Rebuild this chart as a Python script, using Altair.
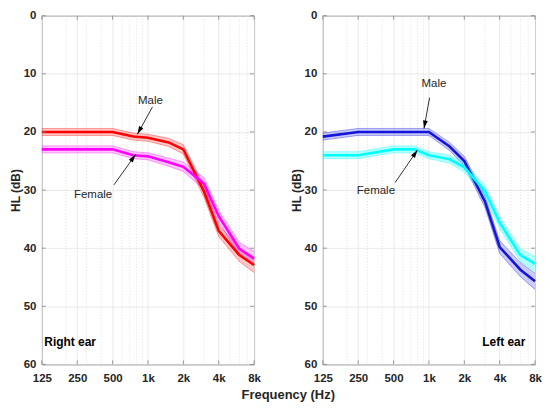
import altair as alt
import pandas as pd

# ---------------- data ----------------
freqs = [125, 250, 500, 750, 1000, 1500, 2000, 3000, 4000, 6000, 8000]

right_male = [20, 20, 20, 20.8, 21, 21.8, 23, 30.3, 37, 41.2, 42.9]
right_male_ci = [0.6, 0.6, 0.6, 0.6, 0.6, 0.7, 0.8, 1.0, 1.0, 1.1, 1.3]
right_female = [23, 23, 23, 24, 24.2, 25.2, 26, 28.9, 34.5, 40.1, 41.8]
right_female_ci = [0.6, 0.6, 0.6, 0.6, 0.6, 0.7, 0.8, 1.0, 1.0, 1.1, 1.25]

left_male = [20.8, 20, 20, 20, 20, 22.5, 25, 32, 39.8, 43.7, 45.7]
left_male_ci = [0.6, 0.6, 0.6, 0.6, 0.6, 0.7, 0.8, 1.0, 1.1, 1.2, 1.4]
left_female = [24, 24, 23, 23, 24, 24.7, 26.1, 30.2, 35.6, 41.2, 42.7]
left_female_ci = [0.6, 0.6, 0.6, 0.6, 0.6, 0.7, 0.8, 1.0, 1.0, 1.1, 1.25]

major_x = [125, 250, 500, 1000, 2000, 4000, 8000]
minor_x = [200, 300, 400, 600, 700, 800, 900, 3000, 5000, 6000, 7000]
major_y = [0, 10, 20, 30, 40, 50, 60]

# annotations: label, text pos (Hz, dB), arrow start, arrow tip, arrowhead angle
right_notes = {
    "label": ["Male", "Female"],
    "tx": [1049, 341], "ty": [14.6, 30.8],
    "x0": [1092, 514], "y0": [15.7, 29.1],
    "x1": [813, 783], "y1": [20.4, 23.9],
    "ang": [208, 35],
}
left_notes = {
    "label": ["Male", "Female"],
    "tx": [1104, 354], "ty": [11.8, 30.1],
    "x0": [1013, 516], "y0": [14.1, 28.7],
    "x1": [908, 799], "y1": [19.4, 23.1],
    "ang": [190, 34],
}

W, H = 213, 350
FONT = "Liberation Sans"
AXC = "#808080"

xs = alt.Scale(type="log", domain=[125, 8000], nice=False)
ys = alt.Scale(domain=[0, 60], reverse=True, nice=False)

x_axis = alt.Axis(values=major_x, title=None, ticks=False, grid=True,
                  labelExpr="datum.value >= 1000 ? (datum.value/1000) + 'k' : datum.value",
                  labelPadding=8, labelFlush=False, labelOverlap=False)
y_axis = alt.Axis(values=major_y, title="HL (dB)", ticks=False, grid=True,
                  labelPadding=6, titlePadding=1, labelFlush=False, labelOverlap=False)


def X(field):
    return alt.X(f"{field}:Q", scale=xs, axis=x_axis)


def Y(field):
    return alt.Y(f"{field}:Q", scale=ys, axis=y_axis)


def series(vals, ci):
    return pd.DataFrame({
        "f": freqs,
        "hl": vals,
        "lo": [v - c for v, c in zip(vals, ci)],
        "hi": [v + c for v, c in zip(vals, ci)],
    })


def panel(sers, notes, ear, ear_f, ear_align):
    layers = []
    mx = pd.DataFrame({"f": minor_x})
    layers.append(alt.Chart(mx).mark_rule(color="#d8d8d8", strokeDash=[1, 2], strokeWidth=0.8)
                  .encode(x=X("f")))
    for vals, ci, col, op in sers:
        df = series(vals, ci)
        base = alt.Chart(df)
        layers.append(base.mark_area(opacity=op, color=col, interpolate="linear")
                      .encode(x=X("f"), y=Y("lo"), y2="hi"))
        layers.append(base.mark_line(color=col, opacity=0.45, strokeWidth=0.8)
                      .encode(x=X("f"), y=Y("lo")))
        layers.append(base.mark_line(color=col, opacity=0.45, strokeWidth=0.8)
                      .encode(x=X("f"), y=Y("hi")))
    for vals, ci, col, op in sers:
        df = series(vals, ci)
        layers.append(alt.Chart(df).mark_line(color=col, strokeWidth=2.6)
                      .encode(x=X("f"), y=Y("hl")))
    nd = pd.DataFrame(notes)
    nb = alt.Chart(nd)
    layers.append(nb.mark_rule(color="black", strokeWidth=0.8)
                  .encode(x=X("x0"), x2="x1", y=Y("y0"), y2="y1"))
    layers.append(nb.mark_point(shape="M0,0L-0.5,1.7L0.5,1.7Z", filled=True, color="black",
                                opacity=1, size=90, strokeWidth=0)
                  .encode(x=X("x1"), y=Y("y1"), angle=alt.Angle("ang:Q", scale=None)))
    layers.append(nb.mark_text(font=FONT, fontSize=11.5, color="#262626", align="center",
                               baseline="middle")
                  .encode(x=X("tx"), y=Y("ty"), text="label:N"))
    ed = pd.DataFrame({"f": [ear_f], "hl": [56.1], "t": [ear]})
    layers.append(alt.Chart(ed).mark_text(font=FONT, fontSize=12, fontWeight="bold",
                                          color="#000000", align=ear_align, baseline="middle")
                  .encode(x=X("f"), y=Y("hl"), text="t:N"))
    # inward ticks (MATLAB box style)
    tx = pd.DataFrame({"f": major_x})
    ty = pd.DataFrame({"hl": major_y})
    tk = dict(color=AXC, strokeWidth=0.8)
    layers.append(alt.Chart(tx).mark_rule(**tk).encode(x=X("f"), y=alt.value(0), y2=alt.value(4)))
    layers.append(alt.Chart(tx).mark_rule(**tk).encode(x=X("f"), y=alt.value(H), y2=alt.value(H - 4)))
    layers.append(alt.Chart(ty).mark_rule(**tk).encode(y=Y("hl"), x=alt.value(0), x2=alt.value(4)))
    layers.append(alt.Chart(ty).mark_rule(**tk).encode(y=Y("hl"), x=alt.value(W), x2=alt.value(W - 4)))
    return alt.layer(*layers).properties(width=W, height=H)


left = panel([
    (right_male, right_male_ci, "#ff0000", 0.22),
    (right_female, right_female_ci, "#ff00ff", 0.22),
], right_notes, "Right ear", 131, "left")

right = panel([
    (left_male, left_male_ci, "#1414dc", 0.22),
    (left_female, left_female_ci, "#00ffff", 0.28),
], left_notes, "Left ear", 6624, "right")

chart = alt.hconcat(left, right, spacing=28).properties(
    padding=0,
    title=alt.TitleParams("Frequency (Hz)", orient="bottom", anchor="middle", font=FONT,
                          fontSize=13, fontWeight="bold", color="#262626", offset=5, dx=13),
).configure(padding=0).configure_view(stroke=AXC, strokeWidth=1).configure_axis(
    labelFont=FONT, labelFontSize=11.5, labelFontWeight="bold", labelColor="#262626",
    titleFont=FONT, titleFontSize=12, titleFontWeight="bold", titleColor="#262626",
    domain=False, gridColor="#e3e3e3", gridWidth=0.8,
)

chart.save("out.html", embed_options={"renderer": "svg", "actions": False})
